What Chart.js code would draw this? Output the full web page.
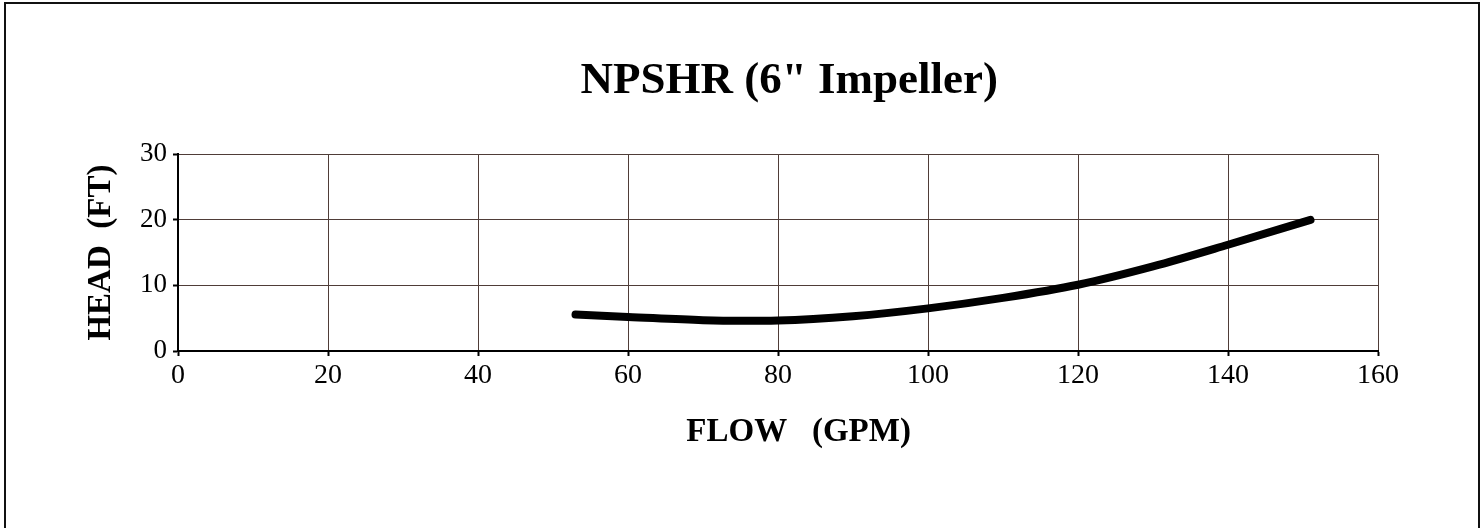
<!DOCTYPE html>
<html>
<head>
<meta charset="utf-8">
<script src="https://cdn.jsdelivr.net/npm/chart.js@4"></script>
<style>
  body { margin: 0; background: #fff; }
  #wrap { position: relative; width: 1482px; height: 528px; overflow: hidden; }
  #frame { position: absolute; left: 4px; top: 2px; width: 1472px; height: 600px; border: 2px solid #111; border-bottom: none; }
  canvas { position: absolute; left: 0; top: 0; }
</style>
</head>
<body>
<div id="wrap">
  <canvas id="npshr" width="1482" height="528"></canvas>
  <div id="frame"></div>
</div>
<script>
// values
const flowGpm = [53, 60, 70, 75, 80, 90, 100, 110, 120, 130, 140, 151]
const headFt = [5.55, 5.2, 4.7, 4.6, 4.65, 5.3, 6.5, 8.1, 10.1, 12.9, 16.2, 20]

// axes
const xTicks = [0, 20, 40, 60, 80, 100, 120, 140, 160]
const yTicks = [0, 10, 20, 30]

const serif = 'Liberation Serif, Times New Roman, serif'
const gridColor = '#4f3d38'

const points = flowGpm.map((x, i) => ({ x: x, y: headFt[i] }))

new Chart(document.getElementById('npshr'), {
  type: 'line',
  data: {
    datasets: [{
      label: 'NPSHR',
      data: points,
      borderColor: '#000',
      borderWidth: 8,
      borderCapStyle: 'round',
      borderJoinStyle: 'round',
      cubicInterpolationMode: 'monotone',
      pointRadius: 0,
      fill: false
    }]
  },
  options: {
    responsive: false,
    animation: false,
    layout: { padding: { left: 82, right: 104, top: 0, bottom: 76 } },
    plugins: {
      legend: { display: false },
      tooltip: { enabled: false },
      title: {
        display: true,
        text: '  NPSHR (6" Impeller)',
        color: '#000',
        fullSize: false,
        font: { family: serif, size: 45, weight: 'bold' },
        padding: { top: 54.6, bottom: 45.6 }
      }
    },
    scales: {
      x: {
        type: 'linear',
        min: xTicks[0],
        max: xTicks[xTicks.length - 1],
        afterBuildTicks: s => { s.ticks = xTicks.map(v => ({ value: v })) },
        afterFit: s => { s.height = 101 },
        border: { color: '#000', width: 2 },
        grid: { color: gridColor, lineWidth: 1, tickColor: '#000', tickWidth: 2, tickLength: 5 },
        ticks: { color: '#000', font: { family: serif, size: 28 }, padding: 3, maxRotation: 0 },
        title: {
          display: true,
          text: '     FLOW   (GPM)',
          color: '#000',
          font: { family: serif, size: 33, weight: 'bold' },
          padding: 0
        }
      },
      y: {
        min: yTicks[0],
        max: yTicks[yTicks.length - 1],
        afterBuildTicks: s => { s.ticks = yTicks.map(v => ({ value: v })) },
        afterFit: s => { s.width = 96 },
        border: { color: '#000', width: 2 },
        grid: { color: gridColor, lineWidth: 1, tickColor: '#000', tickWidth: 2, tickLength: 5 },
        ticks: { color: '#000', font: { family: serif, size: 27 }, padding: 6 },
        title: {
          display: true,
          text: 'HEAD  (FT)',
          color: '#000',
          font: { family: serif, size: 33, weight: 'bold' },
          padding: 0
        }
      }
    }
  }
})
</script>
</body>
</html>
